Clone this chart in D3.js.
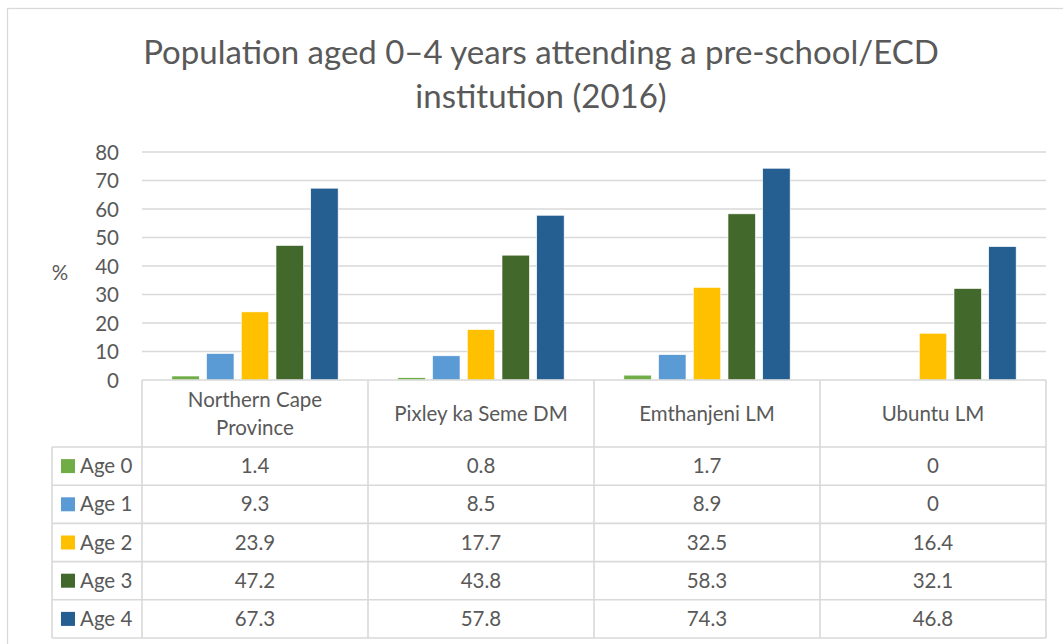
<!DOCTYPE html>
<html>
<head>
<meta charset="utf-8">
<script src="https://cdn.jsdelivr.net/npm/d3@7"></script>
<style>
  body { margin: 0; background: #fff; }
  svg { display: block; font-family: Lato, "Open Sans", sans-serif; }
</style>
</head>
<body>
<svg id="chart" width="1063" height="644"></svg>
<script>
// chart data
var categories = ["Northern Cape Province", "Pixley ka Seme DM", "Emthanjeni LM", "Ubuntu LM"];
var categoryLines = [["Northern Cape", "Province"], ["Pixley ka Seme DM"], ["Emthanjeni LM"], ["Ubuntu LM"]];
var seriesNames = ["Age 0", "Age 1", "Age 2", "Age 3", "Age 4"];
var age0 = [1.4, 0.8, 1.7, 0];
var age1 = [9.3, 8.5, 8.9, 0];
var age2 = [23.9, 17.7, 32.5, 16.4];
var age3 = [47.2, 43.8, 58.3, 32.1];
var age4 = [67.3, 57.8, 74.3, 46.8];
var seriesValues = [age0, age1, age2, age3, age4];
var yTicks = [0, 10, 20, 30, 40, 50, 60, 70, 80];
var colors = ["#70AD47", "#5B9BD5", "#FFC000", "#43682B", "#255E91"];

var svg = d3.select("#chart");
var textColor = "#595959";
var gridColor = "#d9d9d9";
var fs = 20.5; // body text size

var plot = { left: 142, right: 1046, top: 152, bottom: 380 };
var tableLeft = 52, headerBottom = 447, rowH = 38.2;

// outer chart border
svg.append("rect")
    .attr("x", 7.5).attr("y", 8.5)
    .attr("width", 1070).attr("height", 650)
    .attr("fill", "none").attr("stroke", gridColor).attr("stroke-width", 1.3);

// title
var title = svg.append("text")
    .attr("text-anchor", "middle")
    .attr("fill", textColor)
    .attr("font-size", 33);
title.append("tspan").attr("x", 541).attr("y", 64).text("Population aged 0\u20134 years attending a pre-school/ECD");
title.append("tspan").attr("x", 541).attr("y", 108).text("institution (2016)");

var x = d3.scaleBand().domain(categories).range([plot.left, plot.right]);
var xInner = d3.scaleBand().domain(seriesNames).range([0, x.bandwidth()])
    .paddingInner(0.21).paddingOuter(0.86);
var y = d3.scaleLinear().domain([0, 80]).range([plot.bottom, plot.top]);

// gridlines
svg.append("g").selectAll("line")
    .data(yTicks.filter(function(d){ return d > 0; }))
    .join("line")
    .attr("x1", plot.left).attr("x2", plot.right)
    .attr("y1", function(d){ return y(d); }).attr("y2", function(d){ return y(d); })
    .attr("stroke", gridColor).attr("stroke-width", 1.5);

// y axis labels
var yAxis = svg.append("g")
    .attr("transform", "translate(" + (plot.left - 23) + ",0)")
    .call(d3.axisLeft(y).tickValues(yTicks).tickSize(0).tickPadding(0));
yAxis.select(".domain").remove();
yAxis.selectAll("text")
    .attr("font-family", "Lato, 'Open Sans', sans-serif")
    .attr("font-size", fs).attr("fill", textColor).attr("dy", "0.35em");

svg.append("text")
    .attr("x", 60).attr("y", 280)
    .attr("text-anchor", "middle")
    .attr("font-size", fs).attr("fill", textColor)
    .text("%");

// bars
var groups = svg.append("g").selectAll("g")
    .data(seriesNames)
    .join("g")
    .attr("fill", function(d, i){ return colors[i]; });

groups.selectAll("rect")
    .data(function(d, i){ return categories.map(function(c, j){ return { cat: c, s: d, v: seriesValues[i][j] }; }); })
    .join("rect")
    .filter(function(d){ return d.v > 0; })
    .attr("x", function(d){ return x(d.cat) + xInner(d.s); })
    .attr("width", xInner.bandwidth())
    .attr("y", function(d){ return y(d.v); })
    .attr("height", function(d){ return y(0) - y(d.v); })
    .attr("stroke", "#fff").attr("stroke-width", 0.6);

// data table
var table = svg.append("g");
var tableBottom = headerBottom + rowH * seriesNames.length;

// horizontal lines
table.append("line")
    .attr("x1", plot.left).attr("x2", plot.right)
    .attr("y1", plot.bottom).attr("y2", plot.bottom)
    .attr("stroke", gridColor).attr("stroke-width", 1.6);
table.selectAll("line.row")
    .data(d3.range(seriesNames.length + 1))
    .join("line")
    .attr("class", "row")
    .attr("x1", tableLeft).attr("x2", plot.right)
    .attr("y1", function(i){ return headerBottom + i * rowH; })
    .attr("y2", function(i){ return headerBottom + i * rowH; })
    .attr("stroke", gridColor).attr("stroke-width", 1.6);

// vertical lines
var colEdges = categories.map(function(c){ return x(c); }).concat([plot.right]);
table.selectAll("line.col")
    .data(colEdges)
    .join("line")
    .attr("class", "col")
    .attr("x1", function(d){ return d; }).attr("x2", function(d){ return d; })
    .attr("y1", plot.bottom).attr("y2", tableBottom)
    .attr("stroke", gridColor).attr("stroke-width", 1.6);
table.append("line")
    .attr("x1", tableLeft).attr("x2", tableLeft)
    .attr("y1", headerBottom).attr("y2", tableBottom)
    .attr("stroke", gridColor).attr("stroke-width", 1.6);

// header labels
categories.forEach(function(c, j){
    var lines = categoryLines[j];
    var cy = (plot.bottom + headerBottom) / 2;
    var t = table.append("text")
        .attr("text-anchor", "middle")
        .attr("font-size", fs).attr("fill", textColor);
    lines.forEach(function(l, k){
        t.append("tspan")
            .attr("x", x(c) + x.bandwidth() / 2)
            .attr("y", cy + (k - (lines.length - 1) / 2) * 28)
            .attr("dy", "0.35em")
            .text(l);
    });
});

// legend rows and values
seriesNames.forEach(function(s, i){
    var cy = headerBottom + i * rowH + rowH / 2;
    table.append("rect")
        .attr("x", 61).attr("y", cy - 7)
        .attr("width", 14).attr("height", 14)
        .attr("fill", colors[i]);
    table.append("text")
        .attr("x", 80).attr("y", cy).attr("dy", "0.35em")
        .attr("font-size", fs).attr("fill", textColor)
        .text(s);
    categories.forEach(function(c, j){
        table.append("text")
            .attr("x", x(c) + x.bandwidth() / 2).attr("y", cy).attr("dy", "0.35em")
            .attr("text-anchor", "middle")
            .attr("font-size", fs).attr("fill", textColor)
            .text(seriesValues[i][j]);
    });
});
</script>
</body>
</html>
